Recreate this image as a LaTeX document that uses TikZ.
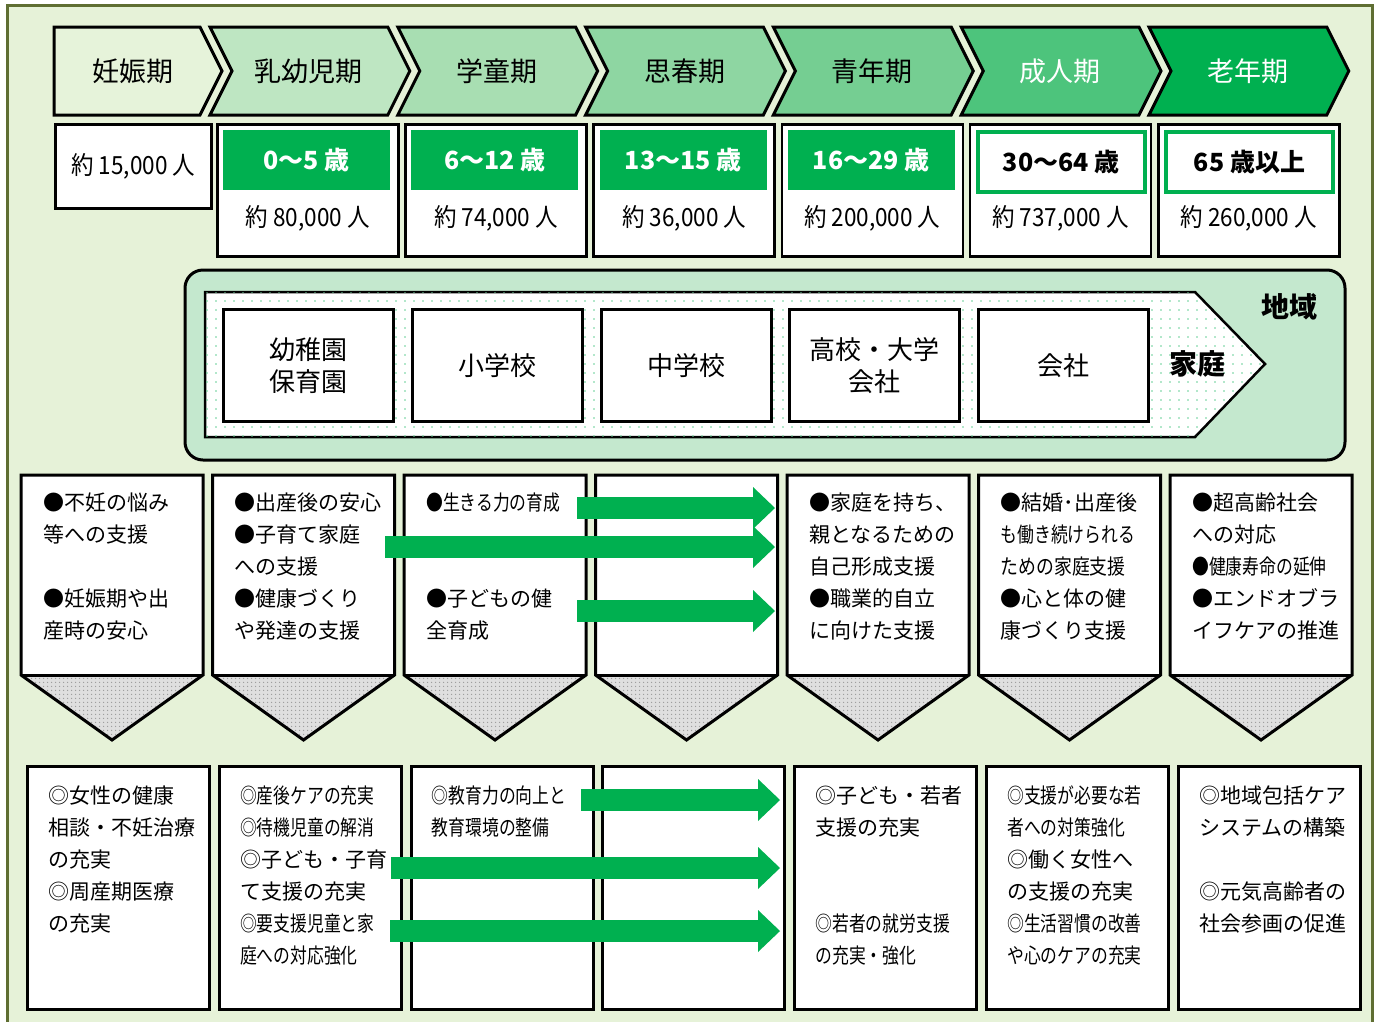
\documentclass[tikz,border=0pt]{standalone}
\usepackage{fontspec}
\usepackage{graphicx}
\setmainfont{Noto Sans CJK JP}
\usetikzlibrary{positioning,arrows.meta,patterns.meta}

\definecolor{waku}{RGB}{95,110,50}
\definecolor{haikei}{RGB}{230,242,216}
\definecolor{midori}{RGB}{0,176,80}
\definecolor{chA}{RGB}{230,243,218}
\definecolor{chB}{RGB}{190,230,194}
\definecolor{chC}{RGB}{168,222,178}
\definecolor{chD}{RGB}{142,214,162}
\definecolor{chE}{RGB}{117,206,146}
\definecolor{chF}{RGB}{77,196,124}
\definecolor{chG}{RGB}{0,176,80}
\definecolor{chiiki}{RGB}{196,232,206}

\newcommand{\nar}[2][0.8]{\scalebox{#1}[1]{#2}}

\tikzset{
  chev/.style={draw=black, line width=3pt},
  stage/.style={font=\fontsize{27}{30}\selectfont},
  kazu/.style={draw=black, line width=2.5pt, fill=white, anchor=north west, inner sep=0pt},
  hdrA/.style={fill=midori, text=white, anchor=north west, inner sep=0pt,
    minimum width=167pt, minimum height=60pt, font=\fontsize{25}{28}\bfseries},
  hdrB/.style={draw=midori, line width=4pt, fill=white, anchor=north west, inner sep=0pt,
    minimum width=167pt, minimum height=60pt, font=\fontsize{25}{28}\bfseries},
  kazutxt/.style={font=\fontsize{25}{28}\selectfont},
  shisetsu/.style={draw=black, line width=3pt, fill=white, anchor=north west, align=center,
    minimum width=170pt, minimum height=112pt, font=\fontsize{26}{32}\selectfont},
  sankaku/.style={fill=gray!25, postaction={pattern={Dots[distance=4pt, radius=0.8pt]}, pattern color=gray!80}},
  sesaku/.style={anchor=north west, inner sep=0pt, align=left, font=\fontsize{21}{32}\selectfont},
  kobox/.style={draw=black, line width=3pt, fill=white, anchor=north west, inner sep=0pt,
    minimum width=182pt, minimum height=243pt},
  yaji/.style={draw=midori, line width=22pt, -{Triangle[length=22pt, width=42pt, line width=0pt]}},
}

\begin{document}
\begin{tikzpicture}[x=1pt, y=-1pt, line join=miter]
% 外枠
\useasboundingbox (0,0) rectangle (1379,1021);
\draw[line width=3pt, draw=waku, fill=haikei] (7,5) rectangle (1372,1040);

% ライフステージ
\draw[chev, fill=chA] (54,27) -- (200,27) -- (222,71) -- (200,115) -- (54,115) -- cycle;
\node[stage] (st1) at (133,71) {妊娠期};
\foreach \i/\col/\tc/\txt in {2/chB/black/乳幼児期, 3/chC/black/学童期, 4/chD/black/思春期,
    5/chE/black/青年期, 6/chF/white/成人期, 7/chG/white/老年期}{
  \pgfmathsetmacro{\R}{200+(\i-1)*187.8}
  \pgfmathsetmacro{\L}{\R-177.8}
  \draw[chev, fill=\col] (\L,27) -- (\R,27) -- (\R+22,71) -- (\R,115) -- (\L,115) -- (\L+22,71) -- cycle;
  \node[stage, text=\tc] (st\i) at ({(\L+\R)/2+10},71) {\txt};
}

% 年齢と人数
\node[kazu, minimum width=156pt, minimum height=84pt, kazutxt] (n1) at (54,123) {\nar[0.9]{約 15,000 人}};
\foreach \i/\hs/\age/\num in {2/hdrA/{0〜5 歳}/{約 80,000 人}, 3/hdrA/{6〜12 歳}/{約 74,000 人},
    4/hdrA/{13〜15 歳}/{約 36,000 人}, 5/hdrA/{16〜29 歳}/{約 200,000 人},
    6/hdrB/{30〜64 歳}/{約 737,000 人}, 7/hdrB/{65 歳以上}/{約 260,000 人}}{
  \node[kazu, minimum width=181pt, minimum height=132pt] (n\i) at ({216+(\i-2)*188.2},123) {};
  \node[\hs] (h\i) at ([xshift=7pt,yshift=-7pt]n\i.north west) {\age};
  \node[kazutxt] (c\i) at ([yshift=-95pt]n\i.north) {\nar[0.9]{\num}};
}

% 地域・家庭
\draw[line width=3pt, fill=chiiki, rounded corners=18pt] (185,270) rectangle (1345,460);
\draw[line width=2.5pt, fill=white, postaction={pattern={Dots[distance=9pt, radius=0.9pt]}, pattern color=midori!60}]
  (205,292) -- (1195,292) -- (1265,364) -- (1195,437) -- (205,437) -- cycle;
\foreach \i/\txt in {1/{幼稚園\\保育園}, 2/小学校, 3/中学校, 4/{高校・大学\\会社}, 5/会社}
  \node[shisetsu] (sh\i) at ({222+(\i-1)*188.8},308) {\txt};
\node[font=\fontsize{28}{32}\bfseries] (katei) at (1197,364) {家庭};
\node[font=\fontsize{28}{32}\bfseries] (chiiki) at (1289,307) {地域};

% 取り組み（中段）
\foreach \i in {1,...,7}{
  \pgfmathsetmacro{\L}{21+(\i-1)*191.5}
  \coordinate (p\i) at (\L,475);
  \fill[white] (\L,475) rectangle (\L+182,675);
  \path[sankaku] (\L,675) -- (\L+182,675) -- (\L+91,740) -- cycle;
  \draw[line width=3pt] (\L,475) -- (\L+182,475) -- (\L+182,675) -- (\L+91,740) -- (\L,675) -- cycle;
  \draw[line width=3pt] (\L,675) -- (\L+182,675);
}
\node[sesaku] (m1) at ([xshift=22pt,yshift=-18pt]p1) {●不妊の悩み\\等への支援\\[32pt]●妊娠期や出\\産時の安心};
\node[sesaku] (m2) at ([xshift=22pt,yshift=-18pt]p2) {●出産後の安心\\●子育て家庭\\への支援\\●健康づくり\\や発達の支援};
\node[sesaku] (m3) at ([xshift=22pt,yshift=-18pt]p3) {\nar{●生きる力の育成}\\[64pt]●子どもの健\\全育成};
\node[sesaku] (m5) at ([xshift=22pt,yshift=-18pt]p5) {●家庭を持ち、\\親となるための\\自己形成支援\\●職業的自立\\に向けた支援};
\node[sesaku] (m6) at ([xshift=22pt,yshift=-18pt]p6) {●結婚･出産後\\\nar{も働き続けられる}\\\nar[0.85]{ための家庭支援}\\●心と体の健\\康づくり支援};
\node[sesaku] (m7) at ([xshift=22pt,yshift=-18pt]p7) {●超高齢社会\\への対応\\\nar{●健康寿命の延伸}\\●エンドオブラ\\イフケアの推進};

% 施策（下段）
\foreach \i in {1,...,7}
  \node[kobox] (k\i) at ({26+(\i-1)*191.8},765) {};
\node[sesaku] (t1) at ([xshift=22pt,yshift=-21pt]k1.north west) {◎女性の健康\\相談・不妊治療\\の充実\\◎周産期医療\\の充実};
\node[sesaku] (t2) at ([xshift=22pt,yshift=-21pt]k2.north west) {\nar{◎産後ケアの充実}\\\nar{◎待機児童の解消}\\◎子ども・子育\\て支援の充実\\\nar{◎要支援児童と家}\\\nar{庭への対応強化}};
\node[sesaku] (t3) at ([xshift=22pt,yshift=-21pt]k3.north west) {\nar{◎教育力の向上と}\\\nar{教育環境の整備}};
\node[sesaku] (t5) at ([xshift=22pt,yshift=-21pt]k5.north west) {◎子ども・若者\\支援の充実\\[64pt]\nar{◎若者の就労支援}\\\nar{の充実・強化}};
\node[sesaku] (t6) at ([xshift=22pt,yshift=-21pt]k6.north west) {\nar{◎支援が必要な若}\\\nar{者への対策強化}\\◎働く女性へ\\の支援の充実\\\nar{◎生活習慣の改善}\\\nar{や心のケアの充実}};
\node[sesaku] (t7) at ([xshift=22pt,yshift=-21pt]k7.north west) {◎地域包括ケア\\システムの構築\\[32pt]◎元気高齢者の\\社会参画の促進};

% 矢印
\coordinate (ya1) at (577,508);  \coordinate (yb1) at (775,508);
\coordinate (ya2) at (385,547);  \coordinate (yb2) at (775,547);
\coordinate (ya3) at (577,611);  \coordinate (yb3) at (775,611);
\coordinate (ya4) at (581,800);  \coordinate (yb4) at (780,800);
\coordinate (ya5) at (391,868);  \coordinate (yb5) at (780,868);
\coordinate (ya6) at (390,931);  \coordinate (yb6) at (780,931);
\foreach \j in {1,...,6}
  \draw[yaji] (ya\j) -- (yb\j);
\end{tikzpicture}
\end{document}
